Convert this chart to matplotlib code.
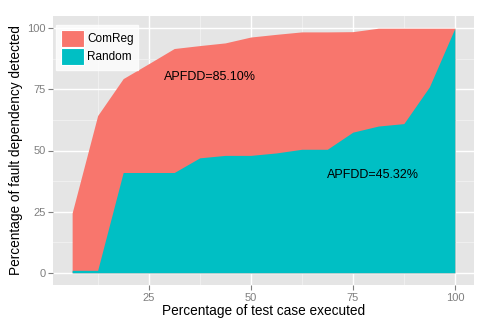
import matplotlib
matplotlib.use("Agg")
import matplotlib.pyplot as plt
from matplotlib.patches import Patch

x = [6.25, 12.5, 18.75, 25, 31.25, 37.5, 43.75, 50, 56.25, 62.5, 68.75, 75, 81.25, 87.5, 93.75, 100]
comreg = [24.5, 64.3, 79.4, 85.5, 91.7, 92.9, 94.0, 96.4, 97.5, 98.5, 98.5, 98.6, 100, 100, 100, 100]
random_ = [1, 1, 41, 41, 41, 47, 48, 48, 49, 50.5, 50.5, 57.5, 60, 61, 76, 100]
series_names = ["ComReg", "Random"]
colors = ["#F8766D", "#00BFC4"]
xticks = [25, 50, 75, 100]
yticks = [0, 25, 50, 75, 100]
annotations = [("APFDD=85.10%", 40, 80), ("APFDD=45.32%", 80, 40)]

plt.rcParams['font.family'] = ['Liberation Sans', 'DejaVu Sans']
W, H = 491, 327
fig = plt.figure(figsize=(W / 100, H / 100), dpi=100)
L, R, T, B = 53, 474, 16, 285
ax = fig.add_axes([L / W, 1 - B / H, (R - L) / W, (B - T) / H])
ax.set_facecolor("#E5E5E5")
for s in ax.spines.values():
    s.set_visible(False)

xr = max(x) - min(x)
ax.set_xlim(min(x) - 0.05 * xr, max(x) + 0.05 * xr)
ax.set_ylim(-5, 105)
ax.set_xticks(xticks)
ax.set_yticks(yticks)
ax.set_xticks([12.5, 37.5, 62.5, 87.5], minor=True)
ax.set_yticks([12.5, 37.5, 62.5, 87.5], minor=True)
ax.grid(which="major", color="white", linewidth=1.0)
ax.grid(which="minor", color="#F2F2F2", linewidth=0.6)
ax.set_axisbelow(True)
ax.tick_params(which="major", length=3.5, width=0.8, color="#7F7F7F",
               labelcolor="#7F7F7F", labelsize=8, pad=2)
ax.tick_params(which="minor", length=0)

ax.fill_between(x, 0, comreg, color=colors[0], linewidth=0, zorder=2)
ax.fill_between(x, 0, random_, color=colors[1], linewidth=0, zorder=3)

for txt, tx, ty in annotations:
    ax.text(tx, ty, txt, ha="center", va="center", fontsize=9, color="black", zorder=5)

ax.set_xlabel("Percentage of test case executed", fontsize=9.8, labelpad=1)
ax.set_ylabel("Percentage of fault dependency detected", fontsize=9.8, labelpad=3)

handles = [Patch(facecolor=c, edgecolor="white", linewidth=0.8) for c in colors]
leg = ax.legend(handles, series_names, loc="upper left", bbox_to_anchor=(0.008, 0.967),
                frameon=True, fancybox=False, fontsize=8.5, handlelength=1.9, handleheight=1.9,
                handletextpad=0.3, borderpad=0.4, labelspacing=0.05, borderaxespad=0)
leg.get_frame().set_facecolor("white")
leg.get_frame().set_edgecolor("white")
leg.set_zorder(6)

fig.savefig("out.png", dpi=100)
